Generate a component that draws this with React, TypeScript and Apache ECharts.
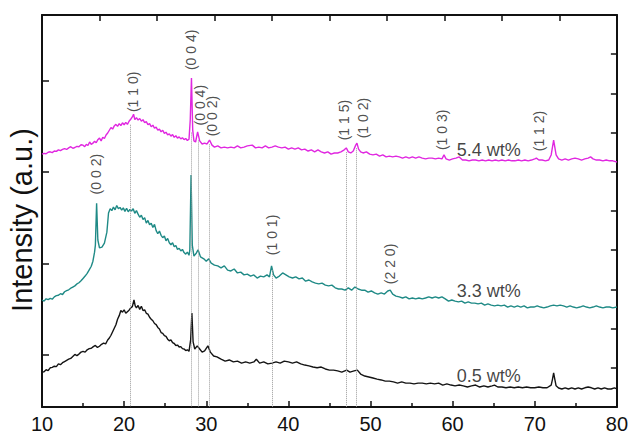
import { useEffect, useRef } from "react";
import * as echarts from "echarts";

type Pt = [number, number];

// XRD patterns: 2θ (deg) vs. intensity (a.u., curves offset vertically)
const pattern05: Pt[] = [
  [10.0, 8.9], [10.25, 9.0], [10.5, 9.5], [10.75, 9.3], [11.0, 10.0], [11.25, 10.1], [11.5, 10.4], [11.75, 10.3],
  [12.0, 11.0], [12.25, 10.8], [12.5, 11.3], [12.75, 11.6], [13.0, 11.9], [13.25, 12.2], [13.5, 12.4], [13.75, 12.9],
  [14.0, 13.4], [14.25, 13.1], [14.5, 13.5], [14.75, 14.0], [15.0, 14.2], [15.25, 14.0], [15.5, 14.6], [15.75, 14.9],
  [16.0, 15.0], [16.25, 15.4], [16.5, 15.7], [16.75, 15.2], [17.0, 15.5], [17.25, 16.0], [17.5, 16.3], [17.75, 16.1],
  [18.0, 17.1], [18.2, 17.6], [18.4, 18.3], [18.6, 19.2], [18.8, 20.1], [19.0, 21.0], [19.2, 22.4], [19.4, 23.3],
  [19.6, 24.6], [19.8, 24.2], [20.0, 24.8], [20.2, 23.9], [20.4, 24.3], [20.6, 24.7], [20.8, 25.3], [21.0, 25.6],
  [21.2, 27.3], [21.35, 25.8], [21.5, 25.3], [21.7, 25.9], [21.9, 24.9], [22.1, 25.7], [22.3, 24.6], [22.5, 24.8],
  [22.7, 23.9], [22.9, 23.7], [23.1, 22.9], [23.3, 22.4], [23.5, 22.0], [23.7, 21.3], [23.9, 21.0], [24.1, 20.3],
  [24.3, 19.9], [24.5, 19.0], [24.7, 18.8], [24.9, 18.2], [25.1, 18.0], [25.3, 17.3], [25.5, 16.9], [25.7, 17.1],
  [25.9, 16.4], [26.1, 16.2], [26.3, 15.7], [26.5, 15.8], [26.7, 15.3], [26.9, 15.4], [27.1, 14.9], [27.3, 14.8],
  [27.5, 14.4], [27.7, 14.6], [27.9, 14.2], [28.1, 17.1], [28.25, 24.0], [28.4, 16.6], [28.6, 14.8], [28.9, 15.6],
  [29.2, 14.8], [29.5, 14.0], [29.8, 14.3], [30.2, 15.6], [30.5, 14.0], [30.9, 13.0], [31.3, 12.8], [31.8, 12.2],
  [32.3, 11.7], [32.8, 12.0], [33.3, 11.5], [33.8, 11.7], [34.3, 11.2], [34.8, 11.5], [35.3, 11.2], [35.8, 11.5],
  [36.1, 12.2], [36.5, 11.2], [37.0, 11.5], [37.5, 11.0], [38.0, 11.2], [38.5, 11.5], [39.0, 11.2], [39.5, 11.7],
  [40.0, 11.5], [40.5, 11.2], [41.0, 11.5], [41.5, 11.0], [42.0, 10.7], [42.5, 10.5], [43.0, 10.2], [43.5, 10.0],
  [44.0, 10.2], [44.5, 9.7], [45.0, 9.4], [45.5, 9.4], [46.0, 9.2], [46.5, 8.9], [47.1, 9.4], [47.5, 8.9],
  [48.0, 9.2], [48.4, 9.4], [48.8, 8.4], [49.3, 7.9], [49.8, 7.65], [50.3, 7.4], [50.8, 7.1], [51.3, 6.9],
  [51.8, 6.6], [52.3, 6.6], [52.8, 6.4], [53.3, 6.1], [53.8, 6.4], [54.3, 6.1], [54.8, 6.1], [55.3, 5.9],
  [55.8, 6.1], [56.3, 6.1], [56.8, 5.9], [57.3, 6.1], [57.8, 5.9], [58.3, 6.1], [58.8, 5.6], [59.3, 5.9],
  [59.8, 5.6], [60.3, 5.4], [60.8, 5.6], [61.3, 5.4], [61.8, 5.1], [62.3, 5.4], [62.8, 5.6], [63.3, 5.1],
  [63.8, 5.4], [64.3, 5.1], [64.8, 5.4], [65.1, 5.6], [65.5, 5.1], [66.0, 5.1], [66.5, 4.9], [67.0, 5.1],
  [67.5, 4.9], [68.0, 5.1], [68.5, 4.9], [69.0, 5.1], [69.5, 4.9], [70.0, 4.9], [70.5, 5.1], [71.0, 4.9],
  [71.5, 4.9], [72.0, 5.6], [72.15, 7.0], [72.3, 8.7], [72.45, 7.0], [72.6, 5.4], [72.9, 4.85], [73.3, 4.6],
  [73.7, 4.9], [74.1, 4.6], [74.5, 4.9], [74.9, 4.6], [75.3, 4.9], [75.7, 4.6], [76.1, 4.9], [76.5, 5.1],
  [76.9, 4.9], [77.3, 4.6], [77.7, 4.9], [78.1, 4.6], [78.5, 4.9], [78.9, 4.6], [79.3, 4.6], [79.7, 4.9],
  [80.0, 4.6],
];

const pattern33: Pt[] = [
  [10.0, 27.3], [10.25, 27.0], [10.5, 27.6], [10.75, 27.4], [11.0, 27.7], [11.25, 27.5], [11.5, 28.1], [11.75, 28.4],
  [12.0, 28.5], [12.25, 28.9], [12.5, 28.7], [12.75, 29.4], [13.0, 29.7], [13.25, 29.9], [13.5, 30.3], [13.75, 30.6],
  [14.0, 30.9], [14.25, 31.4], [14.5, 31.7], [14.75, 32.2], [15.0, 32.8], [15.25, 33.4], [15.5, 34.1], [15.75, 35.0],
  [16.0, 35.9], [16.2, 37.2], [16.4, 39.5], [16.5, 41.3], [16.65, 52.0], [16.8, 42.6], [17.0, 40.6], [17.3, 40.8],
  [17.6, 41.8], [17.9, 44.6], [18.1, 49.5], [18.3, 50.6], [18.5, 50.1], [18.7, 51.0], [18.9, 50.3], [19.1, 51.4],
  [19.3, 50.6], [19.5, 50.9], [19.7, 50.2], [19.9, 50.8], [20.1, 49.9], [20.3, 50.7], [20.5, 49.8], [20.7, 50.4],
  [20.9, 50.0], [21.1, 50.6], [21.3, 49.4], [21.5, 50.1], [21.7, 49.2], [21.9, 48.4], [22.1, 48.9], [22.3, 47.8],
  [22.5, 48.3], [22.7, 46.9], [22.9, 47.6], [23.1, 46.5], [23.3, 46.9], [23.5, 45.8], [23.7, 46.6], [23.9, 45.0],
  [24.1, 44.2], [24.3, 44.9], [24.5, 43.8], [24.7, 43.2], [24.9, 43.6], [25.1, 42.4], [25.3, 43.0], [25.5, 41.9],
  [25.7, 41.4], [25.9, 41.9], [26.1, 40.9], [26.3, 41.2], [26.5, 40.2], [26.7, 40.5], [26.9, 39.8], [27.1, 40.2],
  [27.3, 39.4], [27.5, 39.0], [27.7, 39.5], [27.9, 38.7], [28.0, 40.1], [28.15, 59.2], [28.3, 41.3], [28.5, 38.5],
  [28.8, 39.3], [29.0, 40.1], [29.3, 38.3], [29.7, 37.8], [30.0, 37.2], [30.3, 37.8], [30.6, 36.7], [31.0, 36.2],
  [31.4, 36.0], [31.8, 35.5], [32.2, 36.0], [32.6, 34.9], [33.0, 34.7], [33.4, 35.2], [33.8, 34.2], [34.2, 34.4],
  [34.6, 33.7], [35.0, 33.9], [35.4, 33.4], [35.8, 33.7], [36.2, 32.9], [36.6, 33.4], [37.0, 33.2], [37.4, 33.7],
  [37.7, 33.2], [37.95, 36.0], [38.2, 33.7], [38.5, 32.9], [38.9, 33.4], [39.3, 34.2], [39.7, 33.7], [40.1, 33.2],
  [40.5, 32.9], [40.9, 33.2], [41.3, 32.7], [41.7, 32.9], [42.1, 32.1], [42.5, 32.4], [42.9, 31.9], [43.3, 31.6],
  [43.7, 31.4], [44.1, 31.6], [44.5, 31.1], [44.9, 30.9], [45.3, 31.1], [45.7, 30.4], [46.1, 30.1], [46.5, 30.1],
  [46.9, 29.8], [47.3, 30.4], [47.7, 29.8], [48.1, 30.6], [48.5, 30.1], [48.9, 29.8], [49.3, 29.8], [49.7, 29.3],
  [50.1, 29.6], [50.5, 29.1], [50.9, 28.8], [51.3, 29.1], [51.7, 28.8], [52.1, 29.6], [52.4, 29.8], [52.7, 28.8],
  [53.1, 28.3], [53.5, 28.1], [53.9, 27.8], [54.3, 28.1], [54.7, 27.6], [55.1, 27.8], [55.5, 27.6], [55.9, 27.8],
  [56.3, 27.6], [56.7, 27.8], [57.1, 28.1], [57.5, 27.8], [57.9, 28.1], [58.3, 27.8], [58.7, 28.1], [59.1, 27.6],
  [59.5, 27.0], [59.9, 27.3], [60.3, 27.0], [60.7, 26.8], [61.1, 27.0], [61.5, 26.5], [61.9, 26.8], [62.3, 26.5],
  [62.7, 26.5], [63.1, 26.3], [63.5, 26.5], [63.9, 26.0], [64.3, 26.3], [64.7, 26.0], [65.1, 25.8], [65.5, 26.0],
  [65.9, 25.8], [66.3, 26.0], [66.7, 25.5], [67.1, 25.8], [67.5, 25.5], [67.9, 25.8], [68.3, 25.5], [68.7, 25.8],
  [69.1, 25.3], [69.5, 25.5], [69.9, 25.5], [70.3, 25.8], [70.7, 25.5], [71.1, 25.3], [71.5, 25.5], [71.9, 25.8],
  [72.3, 26.0], [72.7, 25.8], [73.1, 26.0], [73.5, 25.8], [73.9, 25.5], [74.3, 25.8], [74.7, 25.5], [75.1, 25.3],
  [75.5, 25.5], [75.9, 25.8], [76.3, 25.5], [76.7, 25.3], [77.1, 25.5], [77.5, 25.8], [77.9, 25.5], [78.3, 25.3],
  [78.7, 25.5], [79.1, 25.5], [79.5, 25.3], [80.0, 25.5],
];

const pattern54: Pt[] = [
  [10.0, 64.5], [10.25, 64.7], [10.5, 64.6], [10.75, 65.0], [11.0, 65.1], [11.25, 64.9], [11.5, 65.3], [11.75, 65.2],
  [12.0, 65.6], [12.25, 65.4], [12.5, 65.7], [12.75, 65.9], [13.0, 65.7], [13.25, 66.1], [13.5, 66.4], [13.75, 66.0],
  [14.0, 66.2], [14.25, 66.5], [14.5, 66.4], [14.75, 66.9], [15.0, 66.8], [15.2, 66.4], [15.4, 67.0], [15.6, 66.7],
  [15.8, 67.6], [16.0, 67.0], [16.2, 67.3], [16.4, 67.8], [16.6, 67.4], [16.8, 68.2], [17.0, 68.6], [17.2, 67.9],
  [17.4, 68.8], [17.6, 68.5], [17.8, 69.4], [18.0, 69.9], [18.2, 70.6], [18.4, 71.3], [18.6, 70.9], [18.8, 71.7],
  [19.0, 72.1], [19.2, 71.6], [19.4, 72.3], [19.6, 71.8], [19.8, 72.5], [20.0, 72.0], [20.2, 72.6], [20.4, 72.1],
  [20.6, 72.9], [20.8, 73.4], [21.0, 74.0], [21.15, 74.7], [21.3, 73.3], [21.5, 73.8], [21.7, 73.2], [21.9, 73.6],
  [22.1, 72.9], [22.3, 73.3], [22.5, 72.5], [22.7, 72.8], [22.9, 72.0], [23.1, 72.3], [23.3, 71.5], [23.5, 71.9],
  [23.7, 71.1], [23.9, 71.4], [24.1, 70.6], [24.3, 70.9], [24.5, 70.2], [24.7, 70.6], [24.9, 69.8], [25.1, 70.1],
  [25.3, 69.4], [25.5, 69.7], [25.7, 69.1], [25.9, 69.5], [26.1, 68.8], [26.3, 69.2], [26.5, 68.6], [26.7, 68.9],
  [26.9, 68.4], [27.1, 68.7], [27.3, 68.2], [27.5, 68.5], [27.7, 68.0], [27.9, 68.3], [28.05, 73.2], [28.2, 83.9],
  [28.35, 70.7], [28.5, 67.9], [28.7, 67.6], [28.95, 70.2], [29.2, 67.9], [29.5, 67.1], [29.8, 67.3], [30.1, 67.1],
  [30.4, 68.1], [30.7, 66.8], [31.0, 66.3], [31.4, 66.6], [31.8, 66.1], [32.2, 66.3], [32.6, 66.1], [33.0, 66.3],
  [33.4, 66.1], [33.8, 66.6], [34.2, 66.1], [34.6, 66.3], [35.0, 66.6], [35.6, 66.8], [36.0, 66.1], [36.4, 66.3],
  [36.8, 66.1], [37.2, 66.6], [37.6, 66.1], [38.0, 66.3], [38.4, 66.6], [38.8, 66.3], [39.2, 66.1], [39.6, 66.3],
  [40.0, 65.8], [40.4, 66.1], [40.8, 65.8], [41.2, 66.1], [41.6, 65.6], [42.0, 65.8], [42.4, 65.3], [42.8, 65.6],
  [43.2, 65.1], [43.6, 65.6], [44.0, 65.1], [44.4, 64.8], [44.8, 65.1], [45.2, 64.5], [45.6, 64.8], [46.0, 64.8],
  [46.4, 65.1], [46.8, 65.6], [47.05, 66.1], [47.3, 65.1], [47.6, 64.8], [47.9, 65.3], [48.2, 66.8], [48.35, 67.3],
  [48.55, 65.8], [48.8, 65.1], [49.1, 64.8], [49.5, 65.1], [49.9, 64.5], [50.3, 64.3], [50.7, 64.5], [51.1, 64.0],
  [51.5, 64.3], [51.9, 63.8], [52.3, 64.0], [52.7, 63.8], [53.1, 64.0], [53.5, 63.8], [53.9, 63.5], [54.3, 63.8],
  [54.7, 63.5], [55.1, 63.8], [55.5, 63.5], [55.9, 63.8], [56.3, 63.5], [56.7, 63.3], [57.1, 63.5], [57.5, 63.5],
  [57.9, 63.3], [58.3, 63.5], [58.7, 63.3], [58.95, 64.3], [59.2, 63.3], [59.6, 63.0], [60.0, 63.3], [60.4, 63.5],
  [60.8, 63.8], [61.2, 63.0], [61.6, 63.0], [62.0, 62.8], [62.4, 63.0], [62.8, 63.0], [63.2, 62.8], [63.6, 63.0],
  [64.0, 62.8], [64.4, 63.0], [64.8, 62.8], [65.2, 63.0], [65.6, 62.8], [66.0, 63.0], [66.4, 62.8], [66.8, 63.0],
  [67.2, 62.8], [67.6, 62.8], [68.0, 63.0], [68.4, 62.8], [68.8, 63.0], [69.2, 62.8], [69.6, 63.0], [70.0, 63.3],
  [70.2, 63.5], [70.5, 63.0], [70.9, 63.0], [71.3, 62.8], [71.7, 63.0], [72.0, 64.3], [72.3, 68.1], [72.6, 64.3],
  [72.9, 63.3], [73.3, 63.0], [73.7, 63.3], [74.1, 63.0], [74.5, 63.3], [74.9, 63.5], [75.3, 63.3], [75.7, 63.0],
  [76.1, 63.3], [76.5, 63.5], [76.8, 63.8], [77.1, 63.3], [77.5, 63.0], [77.9, 63.0], [78.3, 62.8], [78.7, 63.0],
  [79.1, 62.8], [79.5, 62.8], [80.0, 62.5],
];

const sampleNames = ["0.5 wt%", "3.3 wt%", "5.4 wt%"];
const sampleColors = ["#141414", "#1f8a86", "#e027e0"];
const sampleLabelAt: Pt[] = [[64.4, 7.9], [64.4, 29.6], [64.4, 65.6]];

// Miller indices of the indexed reflections and where their tags sit
const reflections = [
  "(0 0 2)", "(1 1 0)", "(0 0 4)", "(0 0 4)", "(0 0 2)", "(1 1 5)",
  "(1 0 2)", "(1 0 3)", "(1 1 2)", "(1 0 1)", "(2 2 0)",
];
const reflectionAt: Pt[] = [
  [16.56, 59.4], [21.06, 80.4], [28.1, 91.1], [29.2, 77.0], [30.7, 74.2], [46.8, 73.2],
  [49.1, 73.7], [58.7, 70.7], [70.5, 70.4], [38.0, 43.9], [52.4, 36.5],
];

// dotted guides: 2θ position and upper end of each line
const guideTheta = [20.8, 28.2, 29.0, 30.4, 38.0, 47.1, 48.3];
const guideTop = [72, 70, 68, 67, 35, 65, 66];

const xTicks = [10, 20, 30, 40, 50, 60, 70, 80];
const leftTicks = [13.33, 36.67, 60, 83.33];

const FONT = "'Liberation Sans', Arial, Helvetica, sans-serif";
const INK = "#111";

const frameLine = { show: true, onZero: false, lineStyle: { color: INK, width: 2 } };

export default function App() {
  const ref = useRef<HTMLDivElement>(null);

  useEffect(() => {
    if (!ref.current) return;
    const chart = echarts.init(ref.current, null, { renderer: "svg" });
    const patterns = [pattern05, pattern33, pattern54];

    chart.setOption({
      animation: false,
      backgroundColor: "#ffffff",
      grid: { left: 42, right: 13, top: 15, bottom: 32 },
      xAxis: [
        {
          type: "value",
          position: "bottom",
          min: 10,
          max: 80,
          interval: 10,
          axisLine: frameLine,
          axisTick: { show: true, inside: true, length: 6, lineStyle: { color: INK, width: 1.5 } },
          minorTick: { show: true, splitNumber: 2, length: 4, lineStyle: { color: INK, width: 1.5 } },
          axisLabel: { fontSize: 20, color: INK, fontFamily: FONT, margin: 7, customValues: xTicks },
          splitLine: { show: false },
        },
        {
          type: "value",
          position: "top",
          min: 10,
          max: 80,
          interval: 7,
          axisLine: frameLine,
          axisTick: { show: true, inside: true, length: 6, lineStyle: { color: INK, width: 1.5 } },
          axisLabel: { show: false },
          splitLine: { show: false },
        },
      ],
      yAxis: [
        {
          type: "value",
          position: "left",
          min: 0,
          max: 100,
          axisLine: frameLine,
          axisTick: { show: true, inside: true, length: 7, customValues: leftTicks, lineStyle: { color: INK, width: 1.5 } },
          axisLabel: { show: false },
          splitLine: { show: false },
        },
        {
          type: "value",
          position: "right",
          min: 0,
          max: 100,
          interval: 10,
          axisLine: frameLine,
          axisTick: { show: true, inside: true, length: 6, lineStyle: { color: INK, width: 1.5 } },
          axisLabel: { show: false },
          splitLine: { show: false },
        },
      ],
      graphic: [
        {
          type: "text",
          x: 22,
          y: 220,
          rotation: Math.PI / 2,
          style: {
            text: "Intensity (a.u.)",
            fontSize: 29,
            fontFamily: FONT,
            fill: INK,
            align: "center",
            verticalAlign: "middle",
          },
        },
      ],
      series: [
        {
          type: "line",
          data: [],
          silent: true,
          z: 1,
          markLine: {
            silent: true,
            symbol: "none",
            label: { show: false },
            lineStyle: { type: "dotted", color: "#9a9a9a", width: 1 },
            data: guideTheta.map((t, i) => [{ coord: [t, guideTop[i]] }, { coord: [t, 0] }]),
          },
        },
        ...patterns.map((p, i) => ({
          type: "line",
          name: sampleNames[i],
          data: p,
          showSymbol: false,
          symbol: "none",
          silent: true,
          z: 3,
          lineStyle: { color: sampleColors[i], width: 1.4 },
        })),
        {
          type: "scatter",
          silent: true,
          z: 5,
          symbolSize: 1,
          itemStyle: { color: "transparent" },
          data: reflections.map((r, i) => ({ name: r, value: reflectionAt[i] })),
          label: {
            show: true,
            formatter: "{b}",
            position: "inside",
            rotate: 90,
            fontSize: 14,
            color: "#222",
            fontFamily: FONT,
          },
        },
        {
          type: "scatter",
          silent: true,
          z: 5,
          symbolSize: 1,
          itemStyle: { color: "transparent" },
          data: sampleNames.map((n, i) => ({ name: n, value: sampleLabelAt[i] })),
          label: {
            show: true,
            formatter: "{b}",
            position: "inside",
            fontSize: 18,
            color: INK,
            fontFamily: FONT,
          },
        },
      ],
    });

    return () => chart.dispose();
  }, []);

  return (
    <div
      ref={ref}
      style={{ position: "absolute", left: 0, top: 0, width: 631, height: 439, background: "#fff" }}
    />
  );
}
